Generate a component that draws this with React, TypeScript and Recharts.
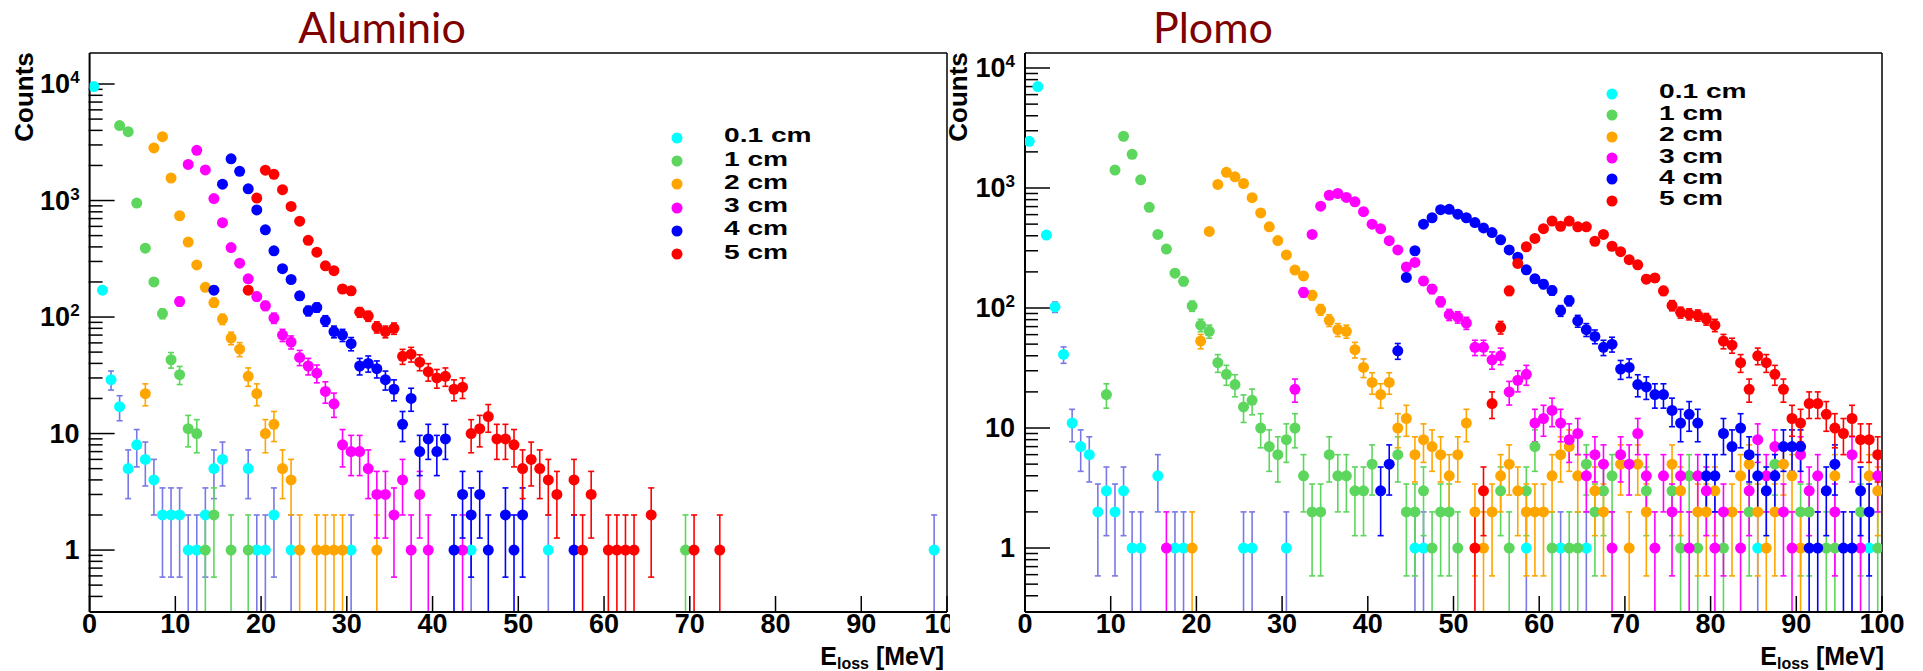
import React from 'react';
import { ScatterChart, Scatter, XAxis, YAxis, ErrorBar, Legend } from 'recharts';

// values are [bin start in MeV, counts]; bins are 1 MeV wide

// Aluminio
const alCyan = [[0, 9500], [1, 170], [2, 29], [3, 17], [4, 5], [5, 8], [6, 6], [7, 4], [8, 2], [9, 2], [10, 2], [11, 1], [12, 1], [13, 2], [14, 5], [15, 6], [18, 5], [19, 1], [20, 1], [21, 2], [23, 1], [30, 1], [44, 1], [53, 1], [98, 1]];
const alGreen = [[3, 4400], [4, 3900], [5, 950], [6, 390], [7, 200], [8, 107], [9, 43], [10, 32], [11, 11], [12, 10], [13, 1], [14, 2], [16, 1], [18, 1], [69, 1]];
const alOrange = [[6, 22], [7, 2830], [8, 3530], [9, 1560], [10, 740], [11, 440], [12, 280], [13, 180], [14, 133], [15, 96], [16, 66], [17, 53], [18, 31], [19, 22], [20, 10], [21, 12], [22, 5], [23, 4], [24, 1], [26, 1], [27, 1], [28, 1], [29, 1], [33, 1]];
const alMagenta = [[10, 136], [11, 2040], [12, 2700], [13, 1830], [14, 1040], [15, 645], [16, 395], [17, 290], [18, 213], [19, 150], [20, 125], [21, 98], [22, 70], [23, 61], [24, 45], [25, 38], [26, 33], [27, 23], [28, 18], [29, 8], [30, 7], [31, 7], [32, 5], [33, 3], [34, 3], [35, 2], [36, 4], [37, 1], [38, 3], [39, 1], [43, 1]];
const alBlue = [[14, 170], [15, 1380], [16, 2280], [17, 1780], [18, 1260], [19, 830], [20, 560], [21, 370], [22, 260], [23, 210], [24, 152], [25, 113], [26, 121], [27, 93], [28, 75], [29, 70], [30, 59], [31, 38], [32, 40], [33, 36], [34, 29], [35, 24], [36, 12], [37, 20], [38, 7], [39, 9], [40, 7], [41, 9], [42, 1], [43, 3], [44, 2], [45, 3], [46, 1], [48, 2], [49, 1], [50, 2], [56, 1]];
const alRed = [[18, 170], [19, 1050], [20, 1820], [21, 1680], [22, 1240], [23, 890], [24, 665], [25, 455], [26, 360], [27, 275], [28, 250], [29, 174], [30, 168], [31, 110], [32, 102], [33, 82], [34, 75], [35, 80], [36, 46], [37, 48], [38, 41], [39, 34], [40, 30], [41, 31], [42, 24], [43, 25], [44, 10], [45, 11], [46, 14], [47, 9], [48, 9], [49, 8], [50, 5], [51, 6], [52, 5], [53, 4], [54, 3], [56, 4], [57, 1], [58, 3], [60, 1], [61, 1], [62, 1], [63, 1], [65, 2], [70, 1], [73, 1]];

// Plomo
const pbCyan = [[0, 2450], [1, 7000], [2, 405], [3, 102], [4, 41], [5, 11], [6, 7], [7, 6], [8, 2], [9, 3], [10, 2], [11, 3], [12, 1], [13, 1], [15, 4], [17, 1], [18, 1], [25, 1], [26, 1], [30, 1], [45, 1], [46, 1], [58, 1], [62, 1], [65, 1], [85, 1], [98, 1]];
const pbGreen = [[9, 19], [10, 1410], [11, 2700], [12, 1910], [13, 1170], [14, 690], [15, 410], [16, 310], [17, 195], [18, 167], [19, 104], [20, 72], [21, 64], [22, 35], [23, 28], [24, 23], [25, 15], [26, 17], [27, 10], [28, 7], [29, 6], [30, 8], [31, 10], [32, 4], [33, 2], [34, 2], [35, 6], [36, 4], [37, 4], [38, 3], [39, 3], [40, 5], [43, 6], [44, 2], [45, 2], [46, 3], [47, 1], [48, 2], [49, 2], [50, 1], [55, 3], [56, 1], [58, 3], [59, 7], [61, 1], [63, 1], [64, 1], [65, 5], [66, 2], [67, 3], [68, 4], [72, 3], [75, 3], [76, 1], [77, 4], [78, 1], [81, 1], [84, 2], [87, 5], [90, 2], [91, 2], [93, 1], [94, 1], [97, 2], [99, 1]];
const pbOrange = [[19, 1], [20, 53], [21, 435], [22, 1070], [23, 1350], [24, 1240], [25, 1090], [26, 830], [27, 620], [28, 475], [29, 365], [30, 277], [31, 207], [32, 185], [33, 128], [34, 97], [35, 79], [36, 66], [37, 64], [38, 45], [39, 32], [40, 24], [41, 19], [42, 24], [43, 10], [44, 12], [45, 6], [46, 8], [47, 7], [48, 6], [49, 4], [50, 6], [51, 11], [52, 2], [53, 1], [54, 2], [55, 4], [56, 5], [57, 3], [58, 2], [59, 2], [60, 2], [61, 4], [62, 6], [63, 7], [64, 4], [66, 3], [67, 2], [69, 5], [70, 1], [71, 5], [72, 2], [75, 5], [76, 3], [78, 2], [79, 2], [80, 3], [82, 2], [83, 4], [84, 5], [85, 2], [86, 1], [87, 2], [88, 5], [89, 4], [90, 1], [94, 4], [98, 4], [99, 3]];
const pbMagenta = [[16, 1], [31, 21], [32, 135], [33, 410], [34, 705], [35, 870], [36, 900], [37, 835], [38, 767], [39, 635], [40, 500], [41, 457], [42, 364], [43, 305], [44, 220], [45, 240], [46, 168], [47, 144], [48, 113], [49, 88], [50, 84], [51, 75], [52, 47], [53, 47], [54, 37], [55, 40], [56, 20], [57, 25], [58, 28], [59, 11], [60, 12], [61, 14], [62, 11], [63, 8], [64, 9], [65, 4], [66, 6], [67, 5], [68, 1], [69, 6], [70, 5], [71, 9], [72, 4], [73, 1], [74, 4], [75, 2], [76, 4], [77, 1], [78, 4], [79, 3], [80, 1], [81, 2], [83, 1], [84, 3], [85, 8], [86, 4], [87, 7], [88, 2], [89, 1], [90, 6], [91, 3], [92, 4], [94, 2], [96, 6], [97, 1], [99, 4]];
const pbBlue = [[41, 3], [42, 5], [43, 44], [44, 180], [45, 300], [46, 500], [47, 565], [48, 660], [49, 665], [50, 605], [51, 565], [52, 515], [53, 465], [54, 425], [55, 370], [56, 305], [57, 265], [58, 208], [59, 175], [60, 158], [61, 140], [62, 95], [63, 115], [64, 78], [65, 66], [66, 58], [67, 47], [68, 50], [69, 31], [70, 32], [71, 23], [72, 22], [73, 19], [74, 19], [75, 14], [76, 11], [77, 13], [78, 11], [79, 4], [80, 4], [81, 9], [82, 7], [83, 10], [84, 6], [85, 4], [86, 3], [87, 4], [88, 7], [89, 7], [90, 7], [91, 1], [92, 1], [93, 3], [94, 5], [95, 1], [96, 1], [97, 3], [98, 2]];
const pbRed = [[52, 1], [53, 3], [54, 16], [55, 69], [56, 139], [57, 235], [58, 324], [59, 380], [60, 458], [61, 530], [62, 480], [63, 530], [64, 475], [65, 475], [66, 360], [67, 410], [68, 327], [69, 295], [70, 253], [71, 229], [72, 174], [73, 178], [74, 139], [75, 105], [76, 92], [77, 89], [78, 87], [79, 81], [80, 72], [81, 53], [82, 49], [83, 35], [84, 21], [85, 40], [86, 35], [87, 28], [88, 21], [89, 12], [90, 11], [91, 16], [92, 16], [93, 13], [94, 10], [95, 9], [96, 12], [97, 8], [98, 8], [99, 6]];

const SERIES = [
  { name: '0.1 cm', color: '#00ffff', err: '#7878e6' },
  { name: '1 cm', color: '#5cd65c', err: '#5cd65c' },
  { name: '2 cm', color: '#ffa500', err: '#ffa500' },
  { name: '3 cm', color: '#ff00ff', err: '#ff00ff' },
  { name: '4 cm', color: '#0000ff', err: '#0000ff' },
  { name: '5 cm', color: '#ff0000', err: '#ff0000' },
];

const xMajor = [0, 10, 20, 30, 40, 50, 60, 70, 80, 90, 100];
const xMinor = [2, 4, 6, 8, 12, 14, 16, 18, 22, 24, 26, 28, 32, 34, 36, 38, 42, 44, 46, 48, 52, 54, 56, 58, 62, 64, 66, 68, 72, 74, 76, 78, 82, 84, 86, 88, 92, 94, 96, 98];
const yMajor = [1, 10, 100, 1000, 10000];
const yMinor = [0.4, 0.5, 0.6, 0.7, 0.8, 0.9, 2, 3, 4, 5, 6, 7, 8, 9, 20, 30, 40, 50, 60, 70, 80, 90, 200, 300, 400, 500, 600, 700, 800, 900, 2000, 3000, 4000, 5000, 6000, 7000, 8000, 9000];

const FONT = '"Liberation Sans", Arial, Helvetica, sans-serif';

// poisson errors, lower end kept inside the log axis
const toRows = (pts: number[][], floor: number) =>
  pts.map(([e, n]) => {
    const s = Math.sqrt(n);
    return { x: e + 0.5, y: n, err: [n - Math.max(n - s, floor), s] };
  });

const XTick = (props: any) => {
  const { x, y, payload } = props;
  return (
    <text x={x} y={y} dy={21} textAnchor="middle" fontFamily={FONT} fontWeight="bold" fontSize={27} fill="#000">
      {payload.value}
    </text>
  );
};

const YTick = (props: any) => {
  const { x, y, payload } = props;
  const v = payload.value;
  const exp = Math.round(Math.log10(v));
  return (
    <text x={x} y={y} dy={9} textAnchor="end" fontFamily={FONT} fontWeight="bold" fontSize={27} fill="#000">
      {exp < 2 ? String(v) : '10'}
      {exp >= 2 && <tspan dy={-10} fontSize={17}>{exp}</tspan>}
    </text>
  );
};

const Blank = () => <g />;

const Dot = (color: string) => (p: any) => <circle cx={p.cx} cy={p.cy} r={5.5} fill={color} />;

const LegendBox = ({ rowH }: { rowH: number }) => (
  <div>
    {SERIES.map((s) => (
      <div key={s.name} style={{ display: 'flex', alignItems: 'center', height: rowH }}>
        <svg width={12} height={12} style={{ flex: 'none' }}>
          <circle cx={6} cy={6} r={5.5} fill={s.color} />
        </svg>
        <span style={{
          display: 'inline-block', marginLeft: 41, font: `bold 21px ${FONT}`, lineHeight: '19px',
          whiteSpace: 'nowrap', transform: 'translateY(-3px) scaleX(1.34)', transformOrigin: 'left center', color: '#000',
        }}>
          {s.name}
        </span>
      </div>
    ))}
  </div>
);

interface PanelProps {
  width: number;
  plotLeft: number;
  plotRight: number;
  yDomain: number[];
  groups: number[][][];
  legendX: number;
  legendY: number;
  rowH: number;
}

// plot area spans y 53..612 in both panels; axes are 1px thick boxes
const Panel = ({ width, plotLeft, plotRight, yDomain, groups, legendX, legendY, rowH }: PanelProps) => (
  <ScatterChart width={width} height={671}
    margin={{ top: 52, bottom: 671 - 612 - 2, left: plotLeft - 2, right: width - plotRight - 1 }}>
    <XAxis xAxisId="main" type="number" dataKey="x" domain={[0, 100]} ticks={xMajor} interval={0} allowDataOverflow
      height={1} tickSize={-16} tickMargin={16} tick={<XTick />}
      axisLine={{ stroke: '#000', strokeWidth: 2 }} tickLine={{ stroke: '#000', strokeWidth: 1.5 }} />
    <XAxis xAxisId="minor" type="number" domain={[0, 100]} ticks={xMinor} interval={0} allowDataOverflow
      height={1} tickSize={-9} tick={<Blank />} axisLine={false} tickLine={{ stroke: '#000', strokeWidth: 1.5 }} />
    <XAxis xAxisId="top" orientation="top" type="number" domain={[0, 100]} height={1}
      tick={false} tickLine={false} axisLine={{ stroke: '#000', strokeWidth: 1.5 }} />
    <YAxis yAxisId="main" type="number" dataKey="y" scale="log" domain={yDomain} allowDataOverflow ticks={yMajor} interval={0}
      width={1} tickSize={-25} tickMargin={35} tick={<YTick />}
      axisLine={{ stroke: '#000', strokeWidth: 2 }} tickLine={{ stroke: '#000', strokeWidth: 1.5 }} />
    <YAxis yAxisId="minor" type="number" scale="log" domain={yDomain} allowDataOverflow ticks={yMinor} interval={0}
      width={1} tickSize={-14} tick={<Blank />} axisLine={false} tickLine={{ stroke: '#000', strokeWidth: 1.5 }} />
    <YAxis yAxisId="right" orientation="right" type="number" domain={[0, 1]} width={1}
      tick={false} tickLine={false} axisLine={{ stroke: '#000', strokeWidth: 1.5 }} />
    {groups.map((pts, i) => (
      <Scatter key={SERIES[i].name} name={SERIES[i].name} xAxisId="main" yAxisId="main"
        data={toRows(pts, yDomain[0])} fill={SERIES[i].color} shape={Dot(SERIES[i].color)} isAnimationActive={false}>
        <ErrorBar dataKey="err" direction="y" width={3} stroke={SERIES[i].err} strokeWidth={1.6} isAnimationActive={false} />
      </Scatter>
    ))}
    <Legend layout="vertical" align="center" verticalAlign="middle"
      wrapperStyle={{ left: legendX - 6, top: legendY - rowH / 2, width: 220, height: rowH * 6 }}
      content={() => <LegendBox rowH={rowH} />} />
  </ScatterChart>
);

export default function App() {
  return (
    <div style={{ position: 'absolute', left: 0, top: 0, width: 1923, height: 671, background: '#fff', overflow: 'hidden' }}>
      <div style={{ position: 'absolute', left: 0, top: 0 }}>
        <Panel width={960} plotLeft={89.6} plotRight={947} yDomain={[0.294, 18460]}
          groups={[alCyan, alGreen, alOrange, alMagenta, alBlue, alRed]} legendX={676.7} legendY={137.8} rowH={23.3} />
      </div>
      <div style={{ position: 'absolute', left: 950, top: 0, background: '#fff' }}>
        <Panel width={973} plotLeft={75} plotRight={932} yDomain={[0.293, 13335]}
          groups={[pbCyan, pbGreen, pbOrange, pbMagenta, pbBlue, pbRed]} legendX={661.7} legendY={93.9} rowH={21.4} />
      </div>
      <svg width={1923} height={671} style={{ position: 'absolute', left: 0, top: 0, pointerEvents: 'none' }}>
        <text x={382} y={43} textAnchor="middle" fontFamily="Lato, sans-serif" fontSize={43} fill="#7f0000">Aluminio</text>
        <text x={1213} y={43} textAnchor="middle" fontFamily="Lato, sans-serif" fontSize={43} fill="#7f0000">Plomo</text>
        <text transform="translate(33, 97) rotate(-90)" textAnchor="middle" fontFamily={FONT} fontWeight="bold" fontSize={26}>Counts</text>
        <text transform="translate(967, 97) rotate(-90)" textAnchor="middle" fontFamily={FONT} fontWeight="bold" fontSize={26}>Counts</text>
        <text x={944} y={665} textAnchor="end" fontFamily={FONT} fontWeight="bold" fontSize={25}>
          E<tspan dy={4} fontSize={16}>loss</tspan><tspan dy={-4}> [MeV]</tspan>
        </text>
        <text x={1884} y={665} textAnchor="end" fontFamily={FONT} fontWeight="bold" fontSize={25}>
          E<tspan dy={4} fontSize={16}>loss</tspan><tspan dy={-4}> [MeV]</tspan>
        </text>
      </svg>
    </div>
  );
}
